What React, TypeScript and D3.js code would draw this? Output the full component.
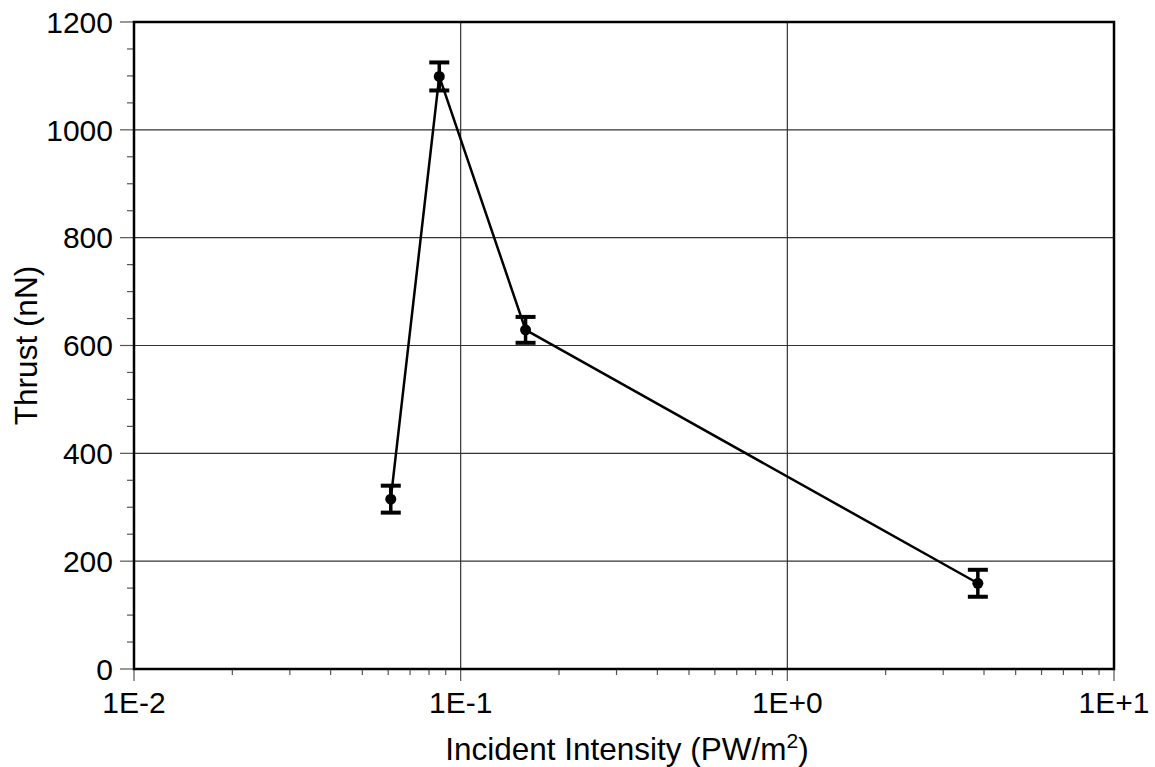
import React from "react";
import * as d3 from "d3";

const intensity = [0.0611, 0.086, 0.158, 3.83];
const thrust = [315, 1099, 629, 159];
const thrustErr = [25, 26, 24, 25];
const xTickValues = [0.01, 0.1, 1, 10];
const xTickLabels = ["1E-2", "1E-1", "1E+0", "1E+1"];
const yTickValues = [0, 200, 400, 600, 800, 1000, 1200];

const W = 1155;
const H = 767;
const M = { left: 134, right: 1114, top: 22, bottom: 669 };
const FONT = "'Liberation Sans', Arial, Helvetica, sans-serif";

export default function App() {
  const x = d3.scaleLog().domain([0.01, 10]).range([M.left, M.right]);
  const y = d3.scaleLinear().domain([0, 1200]).range([M.bottom, M.top]);

  const minorX: number[] = [];
  for (let e = -2; e < 1; e++) {
    for (let k = 2; k <= 9; k++) minorX.push(k * Math.pow(10, e));
  }
  const minorY: number[] = d3.range(0, 1201, 50).filter((v) => v % 200 !== 0);

  const line = d3
    .line<number>()
    .x((_, i) => x(intensity[i]))
    .y((d) => y(d));

  return (
    <svg
      width={W}
      height={H}
      style={{ position: "absolute", left: 0, top: 0, background: "#fff" }}
      fontFamily={FONT}
    >
      <rect x={0} y={0} width={W} height={H} fill="#fff" />
      {/* grid */}
      {xTickValues.slice(1, -1).map((v) => (
        <line key={"gx" + v} x1={x(v)} x2={x(v)} y1={M.top} y2={M.bottom} stroke="#333" strokeWidth={1.2} />
      ))}
      {yTickValues.slice(1, -1).map((v) => (
        <line key={"gy" + v} x1={M.left} x2={M.right} y1={y(v)} y2={y(v)} stroke="#333" strokeWidth={1.2} />
      ))}
      {/* y ticks */}
      {yTickValues.map((v) => (
        <g key={"yt" + v}>
          <line x1={M.left - 14} x2={M.left} y1={y(v)} y2={y(v)} stroke="#555" strokeWidth={1.2} />
          <text x={113} y={y(v)} dy="0.36em" textAnchor="end" fontSize={30} fill="#000">
            {v}
          </text>
        </g>
      ))}
      {minorY.map((v) => (
        <line key={"ym" + v} x1={M.left - 7} x2={M.left} y1={y(v)} y2={y(v)} stroke="#555" strokeWidth={1.2} />
      ))}
      {/* x ticks */}
      {xTickValues.map((v, i) => (
        <g key={"xt" + v}>
          <line x1={x(v)} x2={x(v)} y1={M.bottom} y2={M.bottom + 12} stroke="#555" strokeWidth={1.2} />
          <text x={x(v)} y={713} textAnchor="middle" fontSize={30} fill="#000">
            {xTickLabels[i]}
          </text>
        </g>
      ))}
      {minorX.map((v) => (
        <line key={"xm" + v} x1={x(v)} x2={x(v)} y1={M.bottom} y2={M.bottom + 6} stroke="#555" strokeWidth={1.2} />
      ))}
      {/* frame */}
      <rect
        x={M.left}
        y={M.top}
        width={M.right - M.left}
        height={M.bottom - M.top}
        fill="none"
        stroke="#000"
        strokeWidth={2.5}
      />
      {/* data line */}
      <path d={line(thrust) || ""} fill="none" stroke="#000" strokeWidth={2.5} />
      {/* error bars & markers */}
      {thrust.map((t, i) => {
        const cx = x(intensity[i]);
        const yt = y(t + thrustErr[i]);
        const yb = y(t - thrustErr[i]);
        return (
          <g key={"pt" + i}>
            <line x1={cx} x2={cx} y1={yt} y2={yb} stroke="#000" strokeWidth={3.5} />
            <line x1={cx - 10} x2={cx + 10} y1={yt} y2={yt} stroke="#000" strokeWidth={4} />
            <line x1={cx - 10} x2={cx + 10} y1={yb} y2={yb} stroke="#000" strokeWidth={4} />
            <circle cx={cx} cy={y(t)} r={5.5} fill="#000" />
          </g>
        );
      })}
      {/* axis titles */}
      <text x={627} y={760} textAnchor="middle" fontSize={31.5} fill="#000">
        Incident Intensity (PW/m
        <tspan fontSize={21} dy={-12}>2</tspan>
        <tspan dy={12}>)</tspan>
      </text>
      <text
        transform={`translate(37, ${(M.top + M.bottom) / 2}) rotate(-90)`}
        textAnchor="middle"
        fontSize={31.5}
        fill="#000"
      >
        Thrust (nN)
      </text>
    </svg>
  );
}
